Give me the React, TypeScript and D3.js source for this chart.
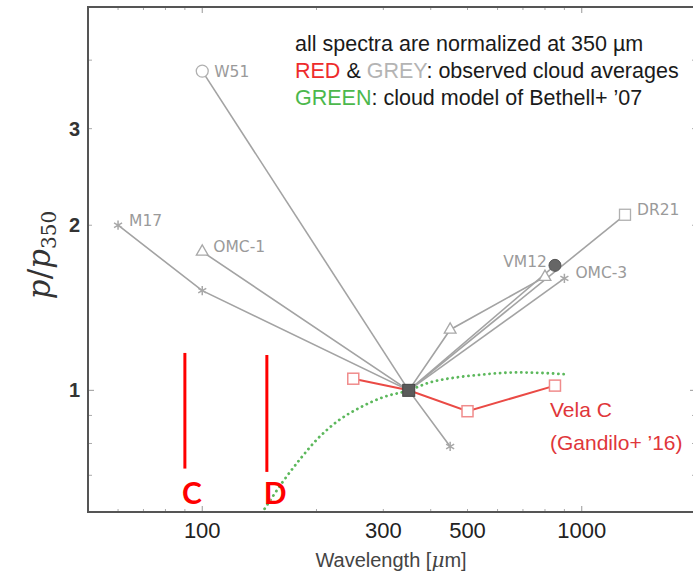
import React from "react";
import * as d3 from "d3";

const W = 693;
const H = 574;

// axes
const xDomain = [50, 2000];
const yDomain = [0.6, 5];
const xTickLabels = [100, 300, 500, 1000];
const xMajorTicks = [100, 1000];
const xMinorTicks = [60, 70, 80, 90, 200, 300, 400, 500, 600, 700, 800, 900, 2000];
const yTickLabels = [1, 2, 3];
const yMajorTicks = [1];
const yMinorTicks = [0.7, 0.8, 0.9, 2, 3, 4];

// grey observed spectra (wavelength µm, p/p350)
const w51Wave = [100, 350];
const w51P = [3.82, 1];
const m17Wave = [60, 100, 350, 450];
const m17P = [2.0, 1.52, 1, 0.79];
const omc1Wave = [100, 350, 450, 800];
const omc1P = [1.79, 1, 1.29, 1.61];
const dr21Wave = [350, 1300];
const dr21P = [1, 2.09];
const vm12Wave = [350, 850];
const vm12P = [1, 1.69];
const omc3Wave = [350, 900];
const omc3P = [1, 1.6];

// red: Vela C
const velaWave = [250, 350, 500, 850];
const velaP = [1.05, 1, 0.916, 1.02];

// green: Bethell+ '07 model
const modelWave = [146, 163, 181, 201, 227, 261, 299, 350, 398, 469, 549, 674, 824, 919];
const modelP = [0.608, 0.681, 0.749, 0.815, 0.878, 0.931, 0.971, 1.0, 1.034, 1.056, 1.069, 1.078, 1.074, 1.069];

// HAWC+ band annotations
const bandNames = ["C", "D"];
const bandWave = [90, 148];
const bandLow = [0.72, 0.71];
const bandHigh = [1.17, 1.16];

const legendLines = [
  [{ t: "all spectra are normalized at 350 µm", c: "#1a1a1a" }],
  [
    { t: "RED", c: "#ee2b2b" },
    { t: " & ", c: "#1a1a1a" },
    { t: "GREY", c: "#b4b4b4" },
    { t: ": observed cloud averages", c: "#1a1a1a" },
  ],
  [
    { t: "GREEN", c: "#4cb84c" },
    { t: ": cloud model of Bethell+ \u201907", c: "#1a1a1a" },
  ],
];

type Pt = { w: number; p: number };
const zip = (ws: number[], ps: number[]): Pt[] => ws.map((w, i) => ({ w, p: ps[i] }));

const greySeries = [
  { name: "W51", pts: zip(w51Wave, w51P), marker: "circle", label: { i: 0, dx: 12, dy: 6, anchor: "start" } },
  { name: "M17", pts: zip(m17Wave, m17P), marker: "star", label: { i: 0, dx: 11, dy: 1, anchor: "start" } },
  { name: "OMC-1", pts: zip(omc1Wave, omc1P), marker: "triangle", label: { i: 0, dx: 11, dy: 0, anchor: "start" } },
  { name: "DR21", pts: zip(dr21Wave, dr21P), marker: "square", label: { i: 1, dx: 12, dy: 0, anchor: "start" } },
  { name: "VM12", pts: zip(vm12Wave, vm12P), marker: "filled", label: { i: 1, dx: -8, dy: 2, anchor: "end" } },
  { name: "OMC-3", pts: zip(omc3Wave, omc3P), marker: "star", label: { i: 1, dx: 11, dy: 0, anchor: "start" } },
];

const SANS = "'Liberation Sans', Arimo, Arial, Helvetica, sans-serif";

export default function App() {
  const x = d3.scaleLog().domain(xDomain).range([88, 696]);
  const y = d3.scaleLog().domain(yDomain).range([512, 7]);
  const left = 88, right = 696, top = 7, bottom = 512;

  const line = d3
    .line<Pt>()
    .x((d) => x(d.w))
    .y((d) => y(d.p));
  const modelLine = d3
    .line<Pt>()
    .x((d) => x(d.w))
    .y((d) => y(d.p))
    .curve(d3.curveMonotoneX);

  const grey = "#a3a3a3";

  const marker = (type: string, cx: number, cy: number, key: string) => {
    if (type === "circle")
      return <circle key={key} cx={cx} cy={cy} r={6} fill="white" stroke="#b0b0b0" strokeWidth={1.3} />;
    if (type === "filled")
      return <circle key={key} cx={cx} cy={cy} r={6} fill="#666" stroke="#555" strokeWidth={1} />;
    if (type === "square")
      return <rect key={key} x={cx - 5.5} y={cy - 5.5} width={11} height={11} fill="white" stroke="#b0b0b0" strokeWidth={1.3} />;
    if (type === "triangle")
      return (
        <path key={key} transform={`translate(${cx},${cy})`} d={d3.symbol(d3.symbolTriangle, 60)() || ""} fill="white" stroke="#a8a8a8" strokeWidth={1.3} />
      );
    return (
      <path key={key} transform={`translate(${cx},${cy})`} d={d3.symbol(d3.symbolAsterisk, 60)() || ""} fill="none" stroke="#a8a8a8" strokeWidth={1.5} />
    );
  };

  return (
    <svg width={W} height={H} style={{ position: "absolute", left: 0, top: 0, background: "white" }}>
      <rect x={0} y={0} width={W} height={H} fill="white" />

      {/* ticks */}
      {xMajorTicks.map((t) => (
        <g key={"xM" + t}>
          <line x1={x(t)} x2={x(t)} y1={bottom} y2={bottom - 6} stroke="#999" strokeWidth={1} />
          <line x1={x(t)} x2={x(t)} y1={top} y2={top + 6} stroke="#999" strokeWidth={1} />
        </g>
      ))}
      {xMinorTicks.map((t) => (
        <g key={"xm" + t}>
          <line x1={x(t)} x2={x(t)} y1={bottom} y2={bottom - 3} stroke="#aaa" strokeWidth={1} />
          <line x1={x(t)} x2={x(t)} y1={top} y2={top + 3} stroke="#aaa" strokeWidth={1} />
        </g>
      ))}
      {yMajorTicks.map((t) => (
        <g key={"yM" + t}>
          <line x1={left} x2={left + 6} y1={y(t)} y2={y(t)} stroke="#999" strokeWidth={1} />
          <line x1={right} x2={right - 6} y1={y(t)} y2={y(t)} stroke="#999" strokeWidth={1} />
        </g>
      ))}
      {yMinorTicks.map((t) => (
        <g key={"ym" + t}>
          <line x1={left} x2={left + 4} y1={y(t)} y2={y(t)} stroke="#aaa" strokeWidth={1} />
          <line x1={right} x2={right - 4} y1={y(t)} y2={y(t)} stroke="#aaa" strokeWidth={1} />
        </g>
      ))}

      {/* frame */}
      <rect x={left} y={top} width={right - left} height={bottom - top} fill="none" stroke="#555" strokeWidth={2} />

      {/* tick labels */}
      {xTickLabels.map((t) => (
        <text key={"xl" + t} x={x(t)} y={538} textAnchor="middle" fontFamily={SANS} fontSize={22} fill="#222">
          {t}
        </text>
      ))}
      {yTickLabels.map((t) => (
        <text key={"yl" + t} x={80} y={y(t) + 7} textAnchor="end" fontFamily={SANS} fontSize={20} fontWeight="bold" fill="#333">
          {t}
        </text>
      ))}

      {/* axis titles */}
      <text x={391} y={567} textAnchor="middle" fontFamily={SANS} fontSize={20} fill="#444">
        Wavelength [<tspan fontStyle="italic" fontFamily="'DejaVu Serif', serif">μ</tspan>m]
      </text>
      <text transform="translate(50,255) rotate(-90)" textAnchor="middle" fontFamily="'DejaVu Serif', serif" fontSize={31} fill="#333">
        <tspan fontStyle="italic">p</tspan>
        <tspan>/</tspan>
        <tspan fontStyle="italic">p</tspan>
        <tspan fontSize={20} dy={6}>350</tspan>
      </text>

      {/* green model */}
      <path
        d={modelLine(zip(modelWave, modelP)) || ""}
        fill="none"
        stroke="#5cb85c"
        strokeWidth={2.8}
        strokeDasharray="0.1 5.2"
        strokeLinecap="round"
      />

      {/* grey spectra */}
      {greySeries.map((s) => (
        <path key={"l" + s.name} d={line(s.pts) || ""} fill="none" stroke={grey} strokeWidth={1.6} />
      ))}
      {greySeries.map((s) =>
        s.pts.map((d, i) => (d.w === 350 ? null : marker(s.marker, x(d.w), y(d.p), s.name + i)))
      )}
      {greySeries.map((s) => {
        const d = s.pts[s.label.i];
        return (
          <text
            key={"t" + s.name}
            x={x(d.w) + s.label.dx}
            y={y(d.p) + s.label.dy}
            textAnchor={s.label.anchor}
            fontFamily="'DejaVu Sans', sans-serif"
            fontSize={15.5}
            fill="#9a9a9a"
          >
            {s.name}
          </text>
        );
      })}

      {/* red Vela C */}
      <path d={line(zip(velaWave, velaP)) || ""} fill="none" stroke="#ea4a45" strokeWidth={2} />
      {zip(velaWave, velaP).map((d, i) =>
        d.w === 350 ? null : (
          <rect key={"v" + i} x={x(d.w) - 5.5} y={y(d.p) - 5.5} width={11} height={11} fill="white" stroke="#f08c8c" strokeWidth={1.5} />
        )
      )}
      <text x={550} y={417} fontFamily={SANS} fontSize={21} fill="#e0363a">Vela C</text>
      <text x={550} y={450} fontFamily={SANS} fontSize={21} fill="#e0363a">(Gandilo+ {"\u201916"})</text>

      {/* normalization point */}
      <rect x={x(350) - 6} y={y(1) - 6} width={12} height={12} fill="#5b5b5b" stroke="#444" strokeWidth={1} />

      {/* band annotations */}
      {bandNames.map((b, i) => (
        <g key={"b" + b}>
          <line x1={x(bandWave[i])} x2={x(bandWave[i])} y1={y(bandHigh[i])} y2={y(bandLow[i])} stroke="#ff0000" strokeWidth={3} />
          <text x={x(bandWave[i]) - 3} y={504} fontFamily="Lato, 'Open Sans', sans-serif" fontWeight="bold" fontSize={30} fill="#ff0000">
            {b}
          </text>
        </g>
      ))}

      {/* legend text */}
      {legendLines.map((ln, i) => (
        <text key={"lg" + i} x={295} y={51 + i * 27} fontFamily={SANS} fontSize={21.5}>
          {ln.map((s, j) => (
            <tspan key={j} fill={s.c}>
              {s.t}
            </tspan>
          ))}
        </text>
      ))}
    </svg>
  );
}
